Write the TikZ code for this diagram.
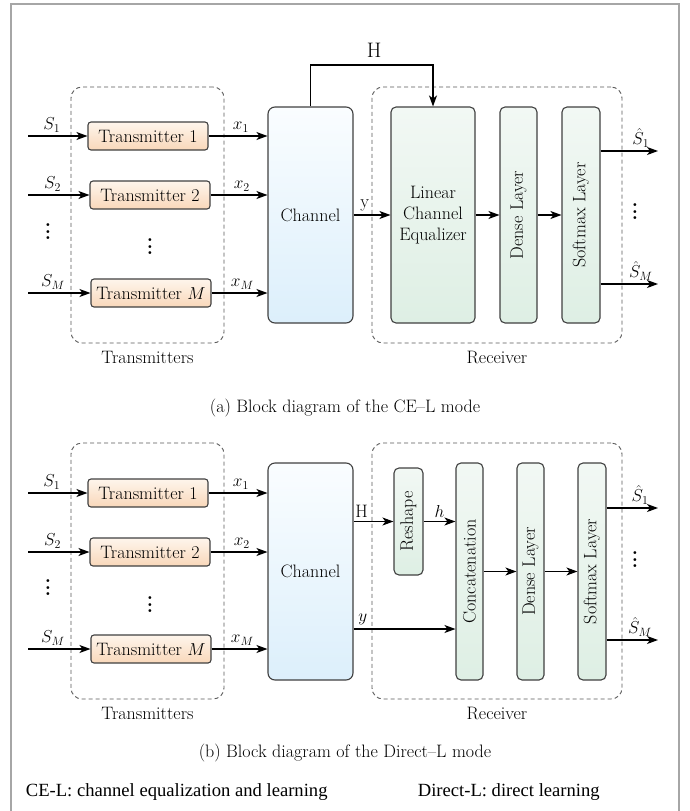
\documentclass[tikz,border=0pt]{standalone}
\usepackage{fontspec}
\newfontfamily\footfont{Liberation Serif}
\usetikzlibrary{arrows.meta,positioning}
\definecolor{txtop}{RGB}{254,245,236}
\definecolor{txbot}{RGB}{249,216,186}
\definecolor{chtop}{RGB}{250,253,255}
\definecolor{chbot}{RGB}{220,239,251}
\definecolor{lytop}{RGB}{242,248,244}
\definecolor{lybot}{RGB}{222,239,228}
\newcommand{\vdotsbig}{\vbox{\baselineskip=6.5pt\lineskiplimit=0pt\hbox{\bfseries .}\hbox{\bfseries .}\hbox{\bfseries .}}}

\begin{document}
\begin{tikzpicture}[x=1pt,y=-1pt,>={Stealth[length=11pt,width=8pt,inset=3pt]},line width=1.1pt,
    font=\fontsize{18}{21}\selectfont,
    tx/.style={draw=black!75,rounded corners=3pt,top color=txtop,bottom color=txbot,minimum width=120pt,minimum height=28pt,inner sep=2pt},
    chan/.style={draw=black!75,rounded corners=7pt,top color=chtop,bottom color=chbot,minimum width=85pt,minimum height=216pt},
    layer/.style={draw=black!75,rounded corners=5pt,top color=lytop,bottom color=lybot,minimum height=216pt,inner sep=1pt},
    dashbox/.style={draw=black!65,dash pattern=on 4pt off 3pt,line width=0.9pt,rounded corners=11pt,minimum width=250pt,minimum height=256pt},
    dots/.style={inner sep=0pt,font=\fontsize{20}{22}\selectfont}]
    \useasboundingbox (0,0) rectangle (689,811);
    \draw[black!35,line width=2pt] (11,811) -- (11,4) -- (679,4) -- (679,811);

    % (a) CE-L mode
    \node[dashbox,minimum width=153pt] (txa) at (147.5,215) {};
    \node[dashbox] (rxa) at (497,215) {};
    \node[below=4pt of txa] (txlaba) {Transmitters};
    \node[below=4pt of rxa] (rxlaba) {Receiver};
    \node[tx] (t1a) at (148,136) {Transmitter 1};
    \node[tx] (t2a) at (150,195) {Transmitter 2};
    \node[tx] (tMa) at (151,293) {Transmitter $M$};
    \node[dots] (vda) at (150,247) {\vdotsbig};
    \node[dots] (vla) at (48,232) {\vdotsbig};
    \node[dots] (vra) at (635,212) {\vdotsbig};
    \node[chan] (cha) at (310.5,215) {Channel};
    \node[layer,minimum width=84pt,align=center] (lcea) at (433,215) {Linear\\Channel\\Equalizer};
    \node[layer,minimum width=37pt] (dna) at (518.5,215) {\rotatebox{90}{Dense Layer}};
    \node[layer,minimum width=38pt] (sma) at (581,215) {\rotatebox{90}{Softmax Layer}};
    \coordinate (s1a) at (28,136);
    \coordinate (s2a) at (28,195);
    \coordinate (sMa) at (28,293);
    \coordinate (hbend) at (433,65);
    \coordinate (o1a) at (658,151);
    \coordinate (oMa) at (658,284);

    \draw[->] (s1a) -- node[above,pos=0.4] {$S_1$} (t1a);
    \draw[->] (s2a) -- node[above,pos=0.4] {$S_2$} (t2a);
    \draw[->] (sMa) -- node[above,pos=0.4] {$S_M$} (tMa);
    \draw[->] (t1a) -- node[above,pos=0.55] {$x_1$} (t1a -| cha.west);
    \draw[->] (t2a) -- node[above,pos=0.55] {$x_2$} (t2a -| cha.west);
    \draw[->] (tMa) -- node[above,pos=0.55] {$x_M$} (tMa -| cha.west);
    \draw[->] (cha.north) |- node[above=4pt,pos=0.76] {\fontsize{21}{24}\selectfont H} (hbend) -- (lcea.north);
    \draw[->] (cha) -- node[above,pos=0.3] {y} (lcea);
    \draw[->] (lcea) -- (dna);
    \draw[->] (dna) -- (sma);
    \draw[->] (o1a -| sma.east) -- node[above,pos=0.7] {$\hat{S}_1$} (o1a);
    \draw[->] (oMa -| sma.east) -- node[above,pos=0.7] {$\hat{S}_M$} (oMa);
    \node (capa) at (345,408) {(a) Block diagram of the CE--L mode};

    % (b) Direct-L mode
    \node[dashbox,minimum width=153pt] (txb) at (147.5,571) {};
    \node[dashbox] (rxb) at (497,571) {};
    \node[below=4pt of txb] (txlabb) {Transmitters};
    \node[below=4pt of rxb] (rxlabb) {Receiver};
    \node[tx] (t1b) at (148,493) {Transmitter 1};
    \node[tx] (t2b) at (150,552) {Transmitter 2};
    \node[tx] (tMb) at (151,649) {Transmitter $M$};
    \node[dots] (vdb) at (150,605) {\vdotsbig};
    \node[dots] (vlb) at (48,588) {\vdotsbig};
    \node[dots] (vrb) at (635,560) {\vdotsbig};
    \node[chan,minimum height=217pt] (chb) at (310.5,571.5) {Channel};
    \node[layer,minimum width=29pt,minimum height=107pt] (rsb) at (408.5,521.5) {\rotatebox{90}{Reshape}};
    \node[layer,minimum width=27pt,minimum height=217pt] (ccb) at (469.5,571.5) {\rotatebox{90}{Concatenation}};
    \node[layer,minimum width=27pt,minimum height=217pt] (dnb) at (530.5,571.5) {\rotatebox{90}{Dense Layer}};
    \node[layer,minimum width=28pt,minimum height=217pt] (smb) at (592,571.5) {\rotatebox{90}{Softmax Layer}};
    \coordinate (s1b) at (28,493);
    \coordinate (s2b) at (28,552);
    \coordinate (sMb) at (28,649);
    \coordinate (yb) at (400,629);
    \coordinate (o1b) at (658,508);
    \coordinate (oMb) at (658,640);

    \draw[->] (s1b) -- node[above,pos=0.4] {$S_1$} (t1b);
    \draw[->] (s2b) -- node[above,pos=0.4] {$S_2$} (t2b);
    \draw[->] (sMb) -- node[above,pos=0.4] {$S_M$} (tMb);
    \draw[->] (t1b) -- node[above,pos=0.55] {$x_1$} (t1b -| chb.west);
    \draw[->] (t2b) -- node[above,pos=0.55] {$x_2$} (t2b -| chb.west);
    \draw[->] (tMb) -- node[above,pos=0.55] {$x_M$} (tMb -| chb.west);
    \draw[->] (chb.east |- rsb) -- node[above,pos=0.2] {H} (rsb);
    \draw[->] (rsb) -- node[above] {$h$} (rsb -| ccb.west);
    \draw[->] (chb.east |- yb) -- node[above,pos=0.09] {$y$} (ccb.west |- yb);
    \draw[->] (ccb) -- (dnb);
    \draw[->] (dnb) -- (smb);
    \draw[->] (o1b -| smb.east) -- node[above,pos=0.65] {$\hat{S}_1$} (o1b);
    \draw[->] (oMb -| smb.east) -- node[above,pos=0.65] {$\hat{S}_M$} (oMb);
    \node (capb) at (345,753) {(b) Block diagram of the Direct--L mode};

    % footnote
    \node[anchor=west,font=\footfont\fontsize{18.6}{21}\selectfont] (nota) at (22,792) {CE-L: channel equalization and learning};
    \node[anchor=west,font=\footfont\fontsize{18.6}{21}\selectfont] (notb) at (414,792) {Direct-L: direct learning};
\end{tikzpicture}
\end{document}
